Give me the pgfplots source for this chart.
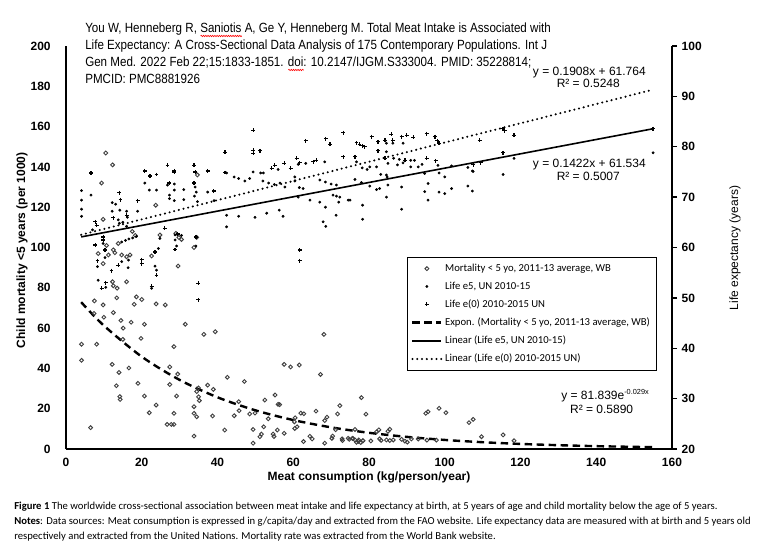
\documentclass[border=0pt]{standalone}
\usepackage{pgfplots}
\pgfplotsset{compat=1.18}
\usetikzlibrary{decorations.pathmorphing}
\usepackage{fontspec}
\setmainfont{Liberation Sans}
\newfontfamily\narrowsans{Liberation Sans}[FakeStretch=0.87]
\newfontfamily\calibri{Carlito}

% red spell-check wave under a word
\newsavebox\squigbox
\newlength\squigw
\newcommand\squig[1]{\sbox\squigbox{#1}\setlength\squigw{\wd\squigbox}\rlap{\tikz[baseline=0pt]\draw[red, line width=0.45pt, decorate, decoration={snake, amplitude=0.5pt, segment length=1.7pt}] (0pt,-2.3pt) -- (\squigw,-2.3pt);}\usebox\squigbox}

\pgfplotsset{
  legend image code/.code={\draw[mark repeat=2,mark phase=2,#1] plot coordinates {(0cm,0cm) (0.38cm,0cm) (0.76cm,0cm)};},
  mort/.style={only marks, mark=o, mark size=1.45pt, draw=black!75, line width=0.7pt},
  efive/.style={only marks, mark=*, mark size=0.85pt, black},
  ezero/.style={only marks, mark=+, mark size=1.45pt, line width=0.9pt, black},
}

\begin{document}
\begin{tikzpicture}
\path[use as bounding box] (-49.5pt,-81pt) rectangle (520.5pt,336.75pt);

% ---------- left axis: child mortality ----------
\begin{axis}[
  scale only axis, width=454.5pt, height=302.25pt,
  xmin=0, xmax=160, ymin=0, ymax=200,
  axis x line*=bottom, axis y line*=left,
  axis line style={-, line width=1pt},
  xtick={0,20,...,160}, ytick={0,20,...,200},
  major tick length=0pt,
  ticklabel style={font=\bfseries\fontsize{9}{10}\selectfont},
  /pgf/number format/assume math mode=true,
  yticklabel style={xshift=-8pt},
  xticklabel style={yshift=-3pt},
]
\addplot[mort] coordinates {
(10.5,146.9) (12.3,141) (9.4,132) (23.7,121) (34.7,136) (9.8,114)
(8.5,97) (12.5,98.8) (12.9,97.4) (13.8,102) (14.7,96.3) (16,95.4) (16.9,96.3) (22.6,95.8) (24.8,106.2) (17.5,108) (18.3,106) (29,107) (29.8,105) (30.5,104) (29.6,90.8) (34.5,105) (33.8,100) (10.7,101) (11.2,96.3) (9.8,92)
(12.3,83) (13.5,79.8) (16,83) (18.6,75.5) (20,74.2) (12.5,81)
(4.1,52) (4.1,44) (7.5,73.5) (8.1,52) (6.5,10.6) (7.4,67.3) (9.8,71.5) (10,65.4) (12.5,67.7) (12.2,42) (13.4,75) (14,38) (13.3,31.4) (14.2,26) (14.3,24.6) (14.5,63.8) (15.1,60) (15,54.4) (16.6,40.2) (17.2,62.9) (18,71.8) (19,32.6) (19.8,54.9) (20.7,61.9) (20.7,26.3) (22,18) (23.8,72) (23.8,21.8) (26.2,71.5) (27.4,40.7) (27.4,32) (26.7,12.2) (27.8,12.2) (28.5,12.2) (28.5,50.8) (28.5,17.7) (29.2,26.3) (29.5,37.2) (31.5,61.9) (33.8,17.7) (33.8,21) (33.8,6.4) (34.5,28.5) (34.5,16) (35,30.3) (35,25.9) (35.2,24) (36.4,56.9) (37.4,31.7) (38.9,29.6) (38.7,16.4) (39.4,58.2) (41.9,9.4) (42.6,35.6) (44.4,16.5) (45.6,23.5) (45.7,19) (47.1,33.5) (48.5,17.4) (49.4,9.7) (49.4,2.9) (49.9,17.8) (51.2,6.1) (51.6,7.4) (52.5,24.3) (52.2,11) (53.4,15) (54.7,7.4) (54.9,6.2) (55.2,26.8) (55.8,9.4) (56,22.2) (56.4,22) (57.6,42) (57.6,7.8) (59.3,40.7) (60.4,10.2) (61,11) (60.3,13.5) (60.5,15.5) (61.6,41.7) (62,17.8) (62.8,17.5) (62.7,3.7) (64.4,6.3) (65,5) (66,18.8) (67.2,37) (68.1,56.9) (68.3,14.1) (68.9,15.8) (68.3,2.9) (70.2,5.3) (70.4,6.4) (71.2,9.6) (71.7,17.4) (72.3,21.5) (73,4.2) (74.8,4.8) (75.8,5.2) (76.3,9.7) (76.7,3.3) (77.2,3.8) (77.8,3.2) (78.4,4) (78,25.5) (79.2,17.3)
(72.9,5) (74.5,5.3) (75.6,5.3) (76.3,4.5) (77.3,4.5) (78.4,4.2) (80.5,4) (82.8,5) (83.2,4.3) (82.6,9.5) (82,8.5) (85.5,9.8) (85,8.8) (84.6,4.5) (85.5,4.2) (86.4,4.5) (88.6,4.8) (89.5,3.9) (90.1,3.4) (91.2,5) (93,5) (95.3,4.4) (97.8,4.4) (95,17.7) (95.6,18.5) (98.5,20.2) (100.3,18) (106.4,13.1) (107.5,14.7) (109.7,6.1) (115.4,7) (118.3,4.1)
};
% exponential trend line
\addplot[black, line width=1.8pt, dash pattern=on 5.5pt off 3.5pt, smooth] coordinates {
(4,72.88) (10,61.24) (20,45.82) (30,34.29) (40,25.66) (50,19.20) (60,14.37) (70,10.75) (80,8.04) (90,6.02) (100,4.50) (110,3.37) (120,2.52) (130,1.89) (140,1.41) (150,1.06) (155,0.91)
};
\end{axis}

% ---------- right axis: life expectancy ----------
\begin{axis}[
  scale only axis, width=454.5pt, height=302.25pt,
  xmin=0, xmax=160, ymin=20, ymax=100,
  axis y line*=right, axis x line=none,
  axis line style={-, line width=1pt},
  ytick={20,30,...,100},
  tick align=outside, major tick length=3.75pt,
  ytick style={line width=1pt, black},
  ticklabel style={font=\bfseries\fontsize{9}{10}\selectfont},
  /pgf/number format/assume math mode=true,
  legend style={at={(axis description cs:0.5627,0.4764)}, anchor=north west,
    draw=black, fill=white, font=\calibri\fontsize{8}{9}\selectfont,
    row sep=2.3pt, inner xsep=3pt, inner ysep=3pt, cells={anchor=west}},
  legend cell align=left,
]
\addlegendimage{mort}
\addlegendentry{Mortality < 5 yo, 2011-13 average, WB}
\addplot[efive] coordinates {
(4.1,71.3) (4.1,69.4) (4.1,67.6) (4.1,66.2) (6.6,70.4) (12.2,68.9) (13.1,68.6) (14.2,67.4) (12.2,67.2) (16,67.2) (16.2,66) (18.9,67.2) (7,63.5) (9.8,60.8) (8.3,56.2) (10.3,58) (14.7,61.1) (15.7,61.4) (16.6,61.7) (17.6,61.9) (18.6,62.2) (13.8,65.5) (14.1,64.8) (15,65) (16,64.2) (16.4,56) (14.7,57.2) (16.5,57.5) (24.4,59.8) (24.8,61.8) (23.5,56.3) (23.9,55.5) (28.8,62.5) (30.5,62.4) (28.8,61.5) (29.2,60.3) (34.3,60.3) (22.6,51.9) (10.5,52.1) (8.5,53.5)
(20.8,72.8) (22,71.4) (23.9,71.4) (26.8,72.4) (28.6,72.6) (28.6,71.4) (27.3,70.4) (27.3,69.7) (28.6,69.3) (31.1,71.5) (31.1,69.5) (34.1,72) (34.4,71) (33.9,70.2) (34.7,69.1) (37.4,71) (39.1,69.3)
(42.4,74.8) (44.4,74) (45.6,73.7) (47.2,73.2) (48.5,73.7) (49.4,75) (51.4,74.8) (52.1,74.8) (56,75.5) (61.3,76.5) (63.3,76.7) (68.3,77) (76.7,77) (78.2,75.8) (79.5,75.5) (80.2,76) (82,76) (83.1,74.5) (84.8,74) (84.6,79)
(52,73.2) (53.5,72.8) (55,72.5) (56.5,72.8) (57.8,72) (60.4,74) (60.4,73.2) (61.6,71.9) (62.6,71.7) (67,73.4) (68.5,73) (70,72.6) (71.4,72.4) (61.3,70) (64.4,69.4) (70.5,70.4) (71.4,70.2) (72.3,70) (74.5,69.4) (76.3,73.5) (78,72.9) (80.2,72.2) (82,71.5)
(42.4,66.4) (45.6,66.2) (49.9,66) (53,66.8) (56.3,67.4) (57.3,66.2) (67,69) (68.5,68) (72,69) (71.3,66.4) (75,69.4) (67.9,65.1) (68.6,64.2) (78.3,68.4) (78.3,65.6) (84.6,70) (42.4,64.1)
(89,80.7) (84.6,80.7) (86.3,80.7) (118.3,77.7) (86.5,77.7) (88,77.5) (91,77.3) (92,77.3) (85,76.7) (87.5,76.4) (89,76.8) (91,76) (93,76) (94,76.5) (84.6,74.4) (98.2,76.3) (101.8,76.2) (106.1,75.9) (107.3,75.2) (94.7,74.7) (98.5,74.8) (100,74) (115.4,74.5) (107.5,75.1)
(82.8,71.7) (85,72.4) (88.6,72) (95.6,72.7) (94.7,71.1) (95.6,69.4) (98.5,71) (100,70.7) (101.8,71.7) (106.1,72.2) (107.3,71.2) (88.6,67.6) (155,78.8)
};
\addlegendentry{Life e5, UN 2010-15}
\addplot[ezero] coordinates {
(6.6,74.8) (14.1,70.9) (14.4,69.5) (18.9,69.3) (20.8,75.2) (22.2,74.2) (23.9,74.5) (26.8,76.3) (28.6,75.2) (28.6,74.9) (33.8,76.3) (34.1,75) (37.4,75.2) (42,78.9) (42,74.9) (49.4,83.3) (49.4,79.3) (49.4,78.7) (51.2,79.2) (55.1,76.3) (57.6,76.7) (60.9,77.7) (61.7,76.8) (63.3,81.2) (66.1,77.3) (68.6,81.6) (69.7,80.5) (73.2,82.8) (76.7,80.8) (77.5,80.5) (78.2,80.2) (78.9,80) (80.7,82) (82.4,81) (84.2,81.3) (85.9,82.5) (88.6,82) (90,82.3) (91.7,81.9) (86.3,81.3) (95.2,82.6) (97.4,82) (98,81.2) (98.5,80.7) (109.2,81.3) (115.4,83.6) (115.8,83.2) (118.3,82.3) (115.4,78.8) (84.2,77.7) (89.5,77.3) (95.2,77.7) (97.6,77.2) (107.5,76.4) (109.5,76.8) (73.2,78) (76.3,78) (155,83.6)
(7.7,65.1) (8.1,64.4) (9.8,62.1) (9.8,61.5) (8.3,57.4) (10.3,59.5) (12.5,65.9) (16,66.4) (13.8,56.5) (20,57.6) (20,56.8) (23.5,59.1) (26.1,63.8) (23.9,54.5) (34.3,62.1) (34.9,52.9) (34.9,49.6) (22.6,52.3) (9.4,51.9) (10.5,53) (29.5,62.7) (28.8,59.6) (12,55.4) (7.7,60.5)
(27.3,72.8) (33.8,72.8) (39,71.2) (54.3,75.7) (59.3,75.7) (65.3,77) (82.4,79.2) (61.7,59.5) (61.7,57.4)
};
\addlegendentry{Life e(0) 2010-2015 UN}
\addlegendimage{black, line width=1.8pt, dash pattern=on 5.5pt off 3.5pt}
\addlegendentry{Expon. (Mortality < 5 yo, 2011-13 average, WB)}
\addplot[black, line width=1.2pt] coordinates {(4,62.103) (155,83.575)};
\addlegendentry{Linear (Life e5, UN 2010-15)}
\addplot[black, line width=1.7pt, line cap=round, dash pattern=on 0pt off 3.6pt] coordinates {(4,62.527) (155,91.338)};
\addlegendentry{Linear (Life e(0) 2010-2015 UN)}
\end{axis}

% ---------- texts ----------
\node[rotate=90, font=\bfseries\fontsize{9}{10}\selectfont] at (-33pt,149pt) {Child mortality <5 years (per 1000)};
\node[rotate=90, font=\fontsize{9}{10}\selectfont] at (501.75pt,150.75pt) {Life expectancy (years)};
\node[font=\bfseries\fontsize{9}{10}\selectfont] at (227.25pt,-21pt) {Meat consumption (kg/person/year)};

\begin{scope}[every node/.style={inner sep=0pt, font=\fontsize{9}{10}\selectfont}]
\node[anchor=base] at (392.5pt,279.75pt) {y = 0.1908x + 61.764};
\node[anchor=base] at (391.7pt,271.05pt) {R² = 0.5248};
\node[anchor=base] at (392.5pt,211.05pt) {y = 0.1422x + 61.534};
\node[anchor=base] at (391.7pt,201.5pt) {R² = 0.5007};
\node[anchor=base] at (404.25pt,37.3pt) {y = 81.839e\raisebox{3.6pt}{\fontsize{5.5}{6}\selectfont -0.029x}};
\node[anchor=base] at (401.7pt,26.5pt) {R² = 0.5890};
\end{scope}

\node[anchor=north west, inner sep=0pt, align=left, font=\narrowsans\fontsize{10}{12.75}\selectfont] at (14.25pt,319.5pt)
{You W, Henneberg R, \squig{Saniotis} A, Ge Y, Henneberg M. Total Meat Intake is Associated with\\
Life Expectancy: A Cross-Sectional Data Analysis of 175 Contemporary Populations. Int J\\
Gen Med. 2022 Feb 22;15:1833-1851. \squig{doi}: 10.2147/IJGM.S333004. PMID: 35228814;\\
PMCID: PMC8881926};

\node[anchor=north west, inner sep=0pt, align=left, font=\calibri\fontsize{8}{11.25}\selectfont] at (-39pt,-39.3pt)
{\textbf{Figure 1} The worldwide cross-sectional association between meat intake and life expectancy at birth, at 5 years of age and child mortality below the age of 5 years.\\
\textbf{Notes}: Data sources: Meat consumption is expressed in g/capita/day and extracted from the FAO website. Life expectancy data are measured with at birth and 5 years old\\
respectively and extracted from the United Nations. Mortality rate was extracted from the World Bank website.};
\end{tikzpicture}
\end{document}
